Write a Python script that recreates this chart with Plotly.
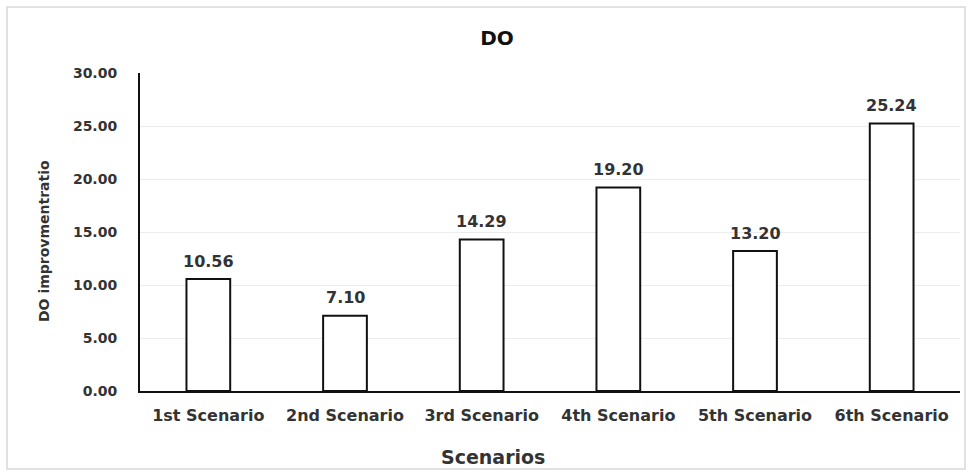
import plotly.graph_objects as go

categories = ["1st Scenario", "2nd Scenario", "3rd Scenario", "4th Scenario", "5th Scenario", "6th Scenario"]
values = [10.56, 7.10, 14.29, 19.20, 13.20, 25.24]
labels = ["10.56", "7.10", "14.29", "19.20", "13.20", "25.24"]

W, H = 973, 475
L, R, T, B = 140, 13, 73, 84
pw, ph = W - L - R, H - T - B

font = "DejaVu Sans"
txt = "#333"

fig = go.Figure(go.Bar(
    x=categories, y=values,
    marker=dict(color="white", line=dict(color="#111", width=2)),
))

for c, v, t in zip(categories, values, labels):
    fig.add_annotation(x=c, y=v, text="<b>%s</b>" % t, showarrow=False,
                       yanchor="middle", yshift=18,
                       font=dict(family=font, size=16, color=txt))

fig.add_annotation(xref="paper", yref="paper", x=(493 - L) / pw, y=-(457 - (H - B)) / ph,
                   yanchor="middle", xanchor="center", showarrow=False,
                   text="<b>Scenarios</b>", font=dict(family=font, size=19, color=txt))

fig.add_annotation(xref="paper", yref="paper", x=(44 - L) / pw, y=((H - B) - 241) / ph,
                   yanchor="middle", xanchor="center", showarrow=False, textangle=-90,
                   text="<b>DO improvmentratio</b>", font=dict(family=font, size=14, color=txt))

fig.update_layout(
    width=W, height=H,
    margin=dict(l=L, r=R, t=T, b=B),
    paper_bgcolor="white", plot_bgcolor="white",
    bargap=0.68,
    showlegend=False,
    title=dict(text="<b>DO</b>", x=(497 - L) / pw, xref="paper", xanchor="center",
               y=1 - 38 / H, yanchor="middle",
               font=dict(family=font, size=20, color="#111")),
    font=dict(family=font, color=txt),
    xaxis=dict(
        showline=True, linecolor="#111", linewidth=2,
        tickfont=dict(family=font, size=16, color=txt, weight="bold"),
        ticks="", ticklabelstandoff=9,
    ),
    yaxis=dict(
        range=[0, 30], dtick=5, tickformat=".2f",
        showline=True, linecolor="#111", linewidth=2,
        showgrid=True, gridcolor="#ececec", gridwidth=1,
        zeroline=False,
        tickfont=dict(family=font, size=14, color=txt, weight="bold"),
        ticks="", ticklabelstandoff=18,
    ),
    shapes=[dict(
        type="rect", xref="paper", yref="paper",
        x0=-(L - 7) / pw, x1=1 + (R - 8) / pw,
        y0=-(B - 6) / ph, y1=1 + (T - 7) / ph,
        line=dict(color="#d9d9d9", width=1.5), fillcolor="rgba(0,0,0,0)", layer="below",
    )],
)

fig.write_html("out.html")
